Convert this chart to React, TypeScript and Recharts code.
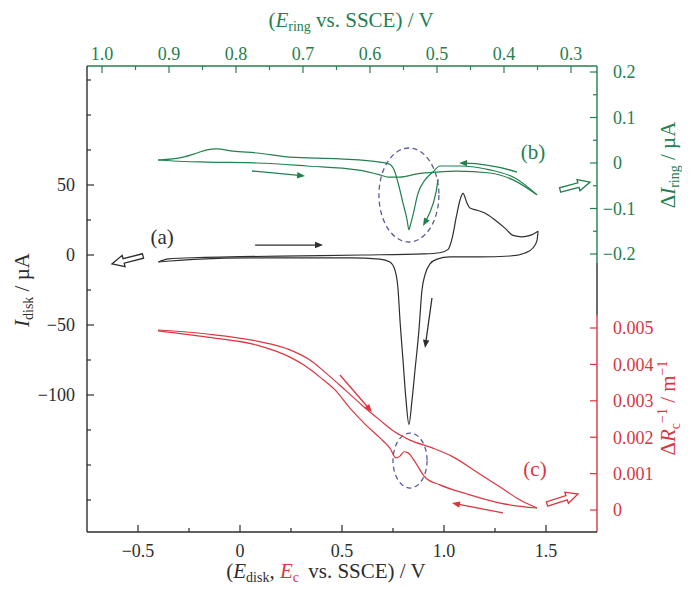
import React from 'react';
import {
  ComposedChart,
  Line,
  XAxis,
  YAxis,
  ReferenceLine,
  ReferenceArea,
  ReferenceDot,
} from 'recharts';

const SERIF = '"Liberation Serif", "DejaVu Serif", serif';
const BLACK = '#2e2e2e';
const GREEN = '#23804f';
const RED = '#dc3540';
const DASH = '#5b5b9c';

// (a) disk current (V, µA): anodic sweep, then cathodic sweep back
const DISK_FWD_E = [-0.4, -0.35, -0.2, 0, 0.3, 0.6, 0.9, 0.98, 1.02, 1.04, 1.06, 1.08, 1.093, 1.113, 1.127, 1.162, 1.2, 1.25, 1.3, 1.338, 1.382, 1.422, 1.461];
const DISK_FWD_I = [-5, -2.8, -1.8, -1.2, -0.6, 0, 0.8, 1.6, 4, 12, 27, 40, 44, 37, 33.5, 32, 30, 25, 19, 14, 13, 14, 17];
const DISK_REV_E = [1.461, 1.456, 1.436, 1.397, 1.324, 1.176, 1.029, 0.966, 0.931, 0.907, 0.892, 0.877, 0.858, 0.843, 0.828, 0.814, 0.799, 0.784, 0.775, 0.76, 0.735, 0.686, 0.539, 0.049, -0.196, -0.343, -0.4];
const DISK_REV_I = [17, 10.5, 5, 1.4, -0.7, -1.4, -1.4, -2.9, -6.4, -14, -25, -54, -82, -104, -121, -104, -75, -46, -25, -11, -5, -2.9, -2.1, -2.1, -2.9, -4.3, -5];

// (b) ring current change (V, µA)
const RING_FWD_E = [-0.402, -0.328, -0.162, 0.083, 0.328, 0.574, 0.686, 0.725, 0.784, 0.868, 0.966, 1.064, 1.225, 1.338, 1.456];
const RING_FWD_I = [0.0066, 0.0044, 0.002, 0, -0.0066, -0.015, -0.026, -0.031, -0.031, -0.024, -0.02, -0.018, -0.022, -0.037, -0.07];
const RING_REV_E = [1.456, 1.348, 1.225, 1.078, 0.98, 0.946, 0.907, 0.873, 0.848, 0.833, 0.828, 0.819, 0.799, 0.775, 0.755, 0.73, 0.686, 0.49, 0.245, 0.083, -0.034, -0.113, -0.162, -0.211, -0.279, -0.402];
const RING_REV_I = [-0.07, -0.033, -0.015, -0.0066, -0.0066, -0.0198, -0.037, -0.066, -0.114, -0.14, -0.147, -0.125, -0.088, -0.044, -0.015, -0.002, 0.002, 0.009, 0.013, 0.022, 0.026, 0.031, 0.029, 0.022, 0.013, 0.0066];

// (c) change of inverse resistance (V, m^-1)
const RC_FWD_E = [-0.402, -0.162, 0.083, 0.245, 0.343, 0.426, 0.515, 0.598, 0.686, 0.76, 0.833, 0.946, 1.044, 1.162, 1.275, 1.373, 1.456];
const RC_FWD_V = [0.004945, 0.004835, 0.00464, 0.0044, 0.00412, 0.00374, 0.0033, 0.00288, 0.00247, 0.00214, 0.00192, 0.0017, 0.00146, 0.00104, 0.00063, 0.000275, 0.000055];
const RC_REV_E = [1.456, 1.275, 1.113, 0.98, 0.907, 0.858, 0.824, 0.804, 0.784, 0.765, 0.735, 0.686, 0.613, 0.539, 0.466, 0.392, 0.319, 0.245, 0.083, -0.162, -0.402];
const RC_REV_V = [0.000055, 0.00019, 0.00044, 0.00069, 0.0009, 0.00132, 0.00157, 0.0016, 0.00148, 0.00143, 0.0017, 0.00198, 0.00236, 0.0028, 0.0033, 0.00365, 0.00396, 0.0042, 0.00453, 0.00475, 0.00492];

const E_MAJOR = [-0.5, 0, 0.5, 1, 1.5];
const E_LABELS = ['−0.5', '0', '0.5', '1.0', '1.5'];
const E_MINOR = [-0.25, 0.25, 0.75, 1.25];

const ERING_MAJOR = [1.0, 0.9, 0.8, 0.7, 0.6, 0.5, 0.4, 0.3];
const ERING_LABELS = ['1.0', '0.9', '0.8', '0.7', '0.6', '0.5', '0.4', '0.3'];
const ERING_MINOR = [0.95, 0.85, 0.75, 0.65, 0.55, 0.45, 0.35];

const I_MAJOR = [50, 0, -50, -100];
const I_LABELS = ['50', '0', '−50', '−100'];
const I_MINOR = [125, 100, 75, 25, -25, -75, -125, -150, -175];

const DI_MAJOR = [0.2, 0.1, 0, -0.1, -0.2];
const DI_LABELS = ['0.2', '0.1', '0', '−0.1', '−0.2'];
const DI_MINOR = [0.15, 0.05, -0.05, -0.15];

const DR_MAJOR = [0, 0.001, 0.002, 0.003, 0.004, 0.005];
const DR_LABELS = ['0', '0.001', '0.002', '0.003', '0.004', '0.005'];

const zip = (xs: number[], ys: number[]) => xs.map((x, i) => ({ x, y: ys[i] }));

const SERIES = [
  { data: zip(DISK_FWD_E, DISK_FWD_I), axis: 'left', color: BLACK },
  { data: zip(DISK_REV_E, DISK_REV_I), axis: 'left', color: BLACK },
  { data: zip(RING_FWD_E, RING_FWD_I), axis: 'green', color: GREEN },
  { data: zip(RING_REV_E, RING_REV_I), axis: 'green', color: GREEN },
  { data: zip(RC_FWD_E, RC_FWD_V), axis: 'red', color: RED },
  { data: zip(RC_REV_E, RC_REV_V), axis: 'red', color: RED },
];

// annotation arrows, in data units of their own axes
const ARROWS = [
  { axis: 'left', color: BLACK, from: [0.074, 7.1], to: [0.407, 7.1], bend: 0 },
  { axis: 'left', color: BLACK, from: [0.941, -30.7], to: [0.907, -66.4], bend: 0 },
  { axis: 'green', color: GREEN, from: [0.059, -0.0176], to: [0.319, -0.0286], bend: 0 },
  { axis: 'green', color: GREEN, from: [1.358, -0.0198], to: [1.074, 0], bend: -4 },
  { axis: 'green', color: GREEN, from: [0.971, -0.0352], to: [0.897, -0.1385], bend: 5 },
  { axis: 'red', color: RED, from: [0.49, 0.003709], to: [0.647, 0.002692], bend: 0 },
  { axis: 'red', color: RED, from: [1.289, -0.00008], to: [1.039, 0.000192], bend: 0 },
];
const HOLLOW = [
  { axis: 'left', color: BLACK, from: [-0.4755, -0.7], to: [-0.6275, -6.4] },
  { axis: 'green', color: GREEN, from: [1.569, -0.0593], to: [1.716, -0.0418] },
  { axis: 'red', color: RED, from: [1.505, 0.000165], to: [1.657, 0.00044] },
];
const TAGS = [
  { axis: 'left', color: BLACK, text: '(a)', x: -0.382, y: 12.9 },
  { axis: 'green', color: GREEN, text: '(b)', x: 1.436, y: 0.0242 },
  { axis: 'red', color: RED, text: '(c)', x: 1.446, y: 0.00115 },
];
const ELLIPSES = [
  { axis: 'green', x1: 0.681, x2: 0.975, y1: -0.1736, y2: 0.033 },
  { axis: 'red', x1: 0.75, x2: 0.917, y1: 0.000604, y2: 0.002115 },
];

function makeTick(orient: string, major: number[], labels: string[], color: string, margin: number, shift = 0) {
  return (props: any) => {
    const { x, y, payload } = props;
    const i = major.indexOf(payload.value);
    const len = i >= 0 ? 7 : 4;
    const font = { fontFamily: SERIF, fontSize: 18, fill: color };
    let line: any = null;
    let text: any = null;
    if (orient === 'left') {
      const ax = x + margin;
      line = <line x1={ax} y1={y} x2={ax + len} y2={y} />;
      if (i >= 0) text = <text {...font} x={x} y={y} dy="0.35em" textAnchor="end">{labels[i]}</text>;
    } else if (orient === 'right') {
      const ax = x - margin - shift;
      line = <line x1={ax} y1={y} x2={ax - len} y2={y} />;
      if (i >= 0) {
        const lab = labels[i];
        const neg = lab.startsWith('−');
        text = (
          <g>
            {neg && <text {...font} x={x} y={y} dy="0.35em" textAnchor="end">−</text>}
            <text {...font} x={x} y={y} dy="0.35em" textAnchor="start">{neg ? lab.slice(1) : lab}</text>
          </g>
        );
      }
    } else if (orient === 'bottom') {
      const ay = y - margin;
      line = <line x1={x} y1={ay} x2={x} y2={ay - len} />;
      if (i >= 0) text = <text {...font} x={x} y={y} dy="0.75em" textAnchor="middle">{labels[i]}</text>;
    } else {
      const ay = y + margin;
      line = <line x1={x} y1={ay} x2={x} y2={ay + len} />;
      if (i >= 0) text = <text {...font} x={x} y={y} textAnchor="middle">{labels[i]}</text>;
    }
    return (
      <g>
        <g stroke={color} strokeWidth={1.2}>{line}</g>
        {text}
      </g>
    );
  };
}

const lineArrow = (color: string, bend: number) => (p: any) => {
  const { x1, y1, x2, y2 } = p;
  const dx = x2 - x1;
  const dy = y2 - y1;
  const L = Math.hypot(dx, dy) || 1;
  const nx = dy / L;
  const ny = -dx / L;
  const cx = (x1 + x2) / 2 + nx * bend;
  const cy = (y1 + y2) / 2 + ny * bend;
  let ux = x2 - cx;
  let uy = y2 - cy;
  const ul = Math.hypot(ux, uy) || 1;
  ux /= ul;
  uy /= ul;
  const hl = 8;
  const hw = 3.2;
  const bx = x2 - ux * hl;
  const by = y2 - uy * hl;
  const pts = `${x2},${y2} ${bx - uy * hw},${by + ux * hw} ${bx + uy * hw},${by - ux * hw}`;
  return (
    <g>
      <path d={`M${x1},${y1} Q${cx},${cy} ${bx + ux * 2},${by + uy * 2}`} fill="none" stroke={color} strokeWidth={1.3} />
      <polygon points={pts} fill={color} />
    </g>
  );
};

const hollowArrow = (color: string) => (p: any) => {
  const { x1, y1, x2, y2 } = p;
  const dx = x2 - x1;
  const dy = y2 - y1;
  const L = Math.hypot(dx, dy) || 1;
  const ux = dx / L;
  const uy = dy / L;
  const nx = -uy;
  const ny = ux;
  const w = 2.3;
  const W = 5.8;
  const hl = 12;
  const bx = x2 - ux * hl;
  const by = y2 - uy * hl;
  const pts = [
    [x1 + nx * w, y1 + ny * w],
    [bx + nx * w, by + ny * w],
    [bx + nx * W, by + ny * W],
    [x2, y2],
    [bx - nx * W, by - ny * W],
    [bx - nx * w, by - ny * w],
    [x1 - nx * w, y1 - ny * w],
  ]
    .map((q) => q.join(','))
    .join(' ');
  return <polygon points={pts} fill="#fff" stroke={color} strokeWidth={1.3} />;
};

const sub = (s: string, color?: string) => (
  <tspan fontSize={14} dy={4} fill={color}>{s}</tspan>
);

const LeftTitle = () => (
  <text x={21} y={282} transform="rotate(-90 21 282)" textAnchor="middle" fontFamily={SERIF} fontSize={21} fill={BLACK}>
    <tspan fontStyle="italic">I</tspan>
    {sub('disk')}
    <tspan dy={-4}> / µA</tspan>
  </text>
);

const TopTitle = () => (
  <text x={343} y={19} textAnchor="middle" fontFamily={SERIF} fontSize={21} fill={GREEN}>
    <tspan>(</tspan>
    <tspan fontStyle="italic">E</tspan>
    {sub('ring')}
    <tspan dy={-4}> vs. SSCE) / V</tspan>
  </text>
);

const BottomTitle = () => (
  <text x={318} y={570} textAnchor="middle" fontFamily={SERIF} fontSize={21} fill={BLACK}>
    <tspan>(</tspan>
    <tspan fontStyle="italic">E</tspan>
    {sub('disk')}
    <tspan dy={-4}>, </tspan>
    <tspan fontStyle="italic" fill={RED}>E</tspan>
    {sub('c', RED)}
    <tspan dy={-4} dx={4}> vs. SSCE) / V</tspan>
  </text>
);

const GreenTitle = () => (
  <text x={667} y={157} transform="rotate(-90 667 157)" textAnchor="middle" fontFamily={SERIF} fontSize={21} fill={GREEN}>
    <tspan>Δ</tspan>
    <tspan fontStyle="italic">I</tspan>
    {sub('ring')}
    <tspan dy={-4}> / µA</tspan>
  </text>
);

const RedTitle = () => (
  <text x={667} y={400} transform="rotate(-90 667 400)" textAnchor="middle" fontFamily={SERIF} fontSize={21} fill={RED}>
    <tspan>Δ</tspan>
    <tspan fontStyle="italic">R</tspan>
    <tspan fontSize={14} dy={5}>c</tspan>
    <tspan fontSize={14} dy={-13}>−1</tspan>
    <tspan dy={8}> / m</tspan>
    <tspan fontSize={14} dy={-8}>−1</tspan>
  </text>
);

export default function App() {
  return (
    <div style={{ width: 682, height: 581 }}>
      <ComposedChart width={682} height={581} margin={{ top: 18, right: 91, bottom: 17, left: 19 }}>
        <XAxis
          xAxisId="bottom"
          type="number"
          dataKey="x"
          domain={[-0.75, 1.75]}
          allowDataOverflow
          ticks={[...E_MAJOR, ...E_MINOR]}
          interval={0}
          tickLine={false}
          tickSize={0}
          tickMargin={11}
          tick={makeTick('bottom', E_MAJOR, E_LABELS, BLACK, 11)}
          axisLine={{ stroke: BLACK, strokeWidth: 1.4 }}
          height={40}
          label={<BottomTitle />}
        />
        <XAxis
          xAxisId="top"
          orientation="top"
          type="number"
          dataKey="x"
          reversed
          domain={[0.2612, 1.0224]}
          allowDataOverflow
          ticks={[...ERING_MAJOR, ...ERING_MINOR]}
          interval={0}
          tickLine={false}
          tickSize={0}
          tickMargin={6}
          tick={makeTick('top', ERING_MAJOR, ERING_LABELS, GREEN, 6)}
          axisLine={{ stroke: GREEN, strokeWidth: 1.4 }}
          height={40}
          label={<TopTitle />}
        />
        <YAxis
          yAxisId="left"
          type="number"
          domain={[-197.86, 135]}
          allowDataOverflow
          ticks={[...I_MAJOR, ...I_MINOR]}
          interval={0}
          tickLine={false}
          tickSize={0}
          tickMargin={12}
          tick={makeTick('left', I_MAJOR, I_LABELS, BLACK, 12)}
          axisLine={{ stroke: BLACK, strokeWidth: 1.4 }}
          width={60}
          label={<LeftTitle />}
        />
        <YAxis
          yAxisId="green"
          orientation="right"
          type="number"
          domain={[-0.811, 0.2132]}
          allowDataOverflow
          ticks={[...DI_MAJOR, ...DI_MINOR]}
          interval={0}
          tickLine={false}
          tickSize={0}
          tickMargin={16}
          tick={makeTick('right', DI_MAJOR, DI_LABELS, GREEN, 16)}
          axisLine={false}
          width={1}
          label={<GreenTitle />}
        />
        <YAxis
          yAxisId="red"
          orientation="right"
          type="number"
          domain={[-0.000604, 0.012198]}
          allowDataOverflow
          ticks={DR_MAJOR}
          interval={0}
          tickLine={false}
          tickSize={0}
          tickMargin={15}
          tick={makeTick('right', DR_MAJOR, DR_LABELS, RED, 15, 1)}
          axisLine={false}
          width={1}
          label={<RedTitle />}
        />

        {SERIES.map((s, k) => (
          <Line
            key={`s-${k}`}
            data={s.data}
            dataKey="y"
            xAxisId="bottom"
            yAxisId={s.axis}
            type="monotone"
            stroke={s.color}
            strokeWidth={1.2}
            dot={false}
            activeDot={false}
            isAnimationActive={false}
          />
        ))}

        {/* right axis drawn in three coloured pieces */}
        <ReferenceLine xAxisId="bottom" yAxisId="green" ifOverflow="visible" segment={[{ x: 1.75, y: 0.2132 }, { x: 1.75, y: -0.22 }]} stroke={GREEN} strokeWidth={1.4} />
        <ReferenceLine xAxisId="bottom" yAxisId="left" ifOverflow="visible" segment={[{ x: 1.75, y: -5.7 }, { x: 1.75, y: -42.9 }]} stroke={BLACK} strokeWidth={1.4} />
        <ReferenceLine xAxisId="bottom" yAxisId="red" ifOverflow="visible" segment={[{ x: 1.75, y: 0.005357 }, { x: 1.75, y: -0.000604 }]} stroke={RED} strokeWidth={1.4} />

        {ELLIPSES.map((e, k) => (
          <ReferenceArea
            key={`el-${k}`}
            xAxisId="bottom"
            yAxisId={e.axis}
            x1={e.x1}
            x2={e.x2}
            y1={e.y1}
            y2={e.y2}
            ifOverflow="visible"
            shape={(p: any) => (
              <ellipse cx={p.x + p.width / 2} cy={p.y + p.height / 2} rx={Math.abs(p.width) / 2} ry={Math.abs(p.height) / 2} fill="none" stroke={DASH} strokeWidth={1.3} strokeDasharray="5 3.5" />
            )}
          />
        ))}
        {ARROWS.map((a, k) => (
          <ReferenceLine
            key={`ar-${k}`}
            xAxisId="bottom"
            yAxisId={a.axis}
            ifOverflow="visible"
            segment={[{ x: a.from[0], y: a.from[1] }, { x: a.to[0], y: a.to[1] }]}
            shape={lineArrow(a.color, a.bend)}
          />
        ))}
        {HOLLOW.map((a, k) => (
          <ReferenceLine
            key={`ho-${k}`}
            xAxisId="bottom"
            yAxisId={a.axis}
            ifOverflow="visible"
            segment={[{ x: a.from[0], y: a.from[1] }, { x: a.to[0], y: a.to[1] }]}
            shape={hollowArrow(a.color)}
          />
        ))}
        {TAGS.map((t, k) => (
          <ReferenceDot
            key={`tg-${k}`}
            xAxisId="bottom"
            yAxisId={t.axis}
            x={t.x}
            y={t.y}
            r={0}
            ifOverflow="visible"
            shape={(p: any) => (
              <text x={p.cx} y={p.cy} dy="0.35em" textAnchor="middle" fontFamily={SERIF} fontSize={21} fill={t.color}>
                {t.text}
              </text>
            )}
          />
        ))}
      </ComposedChart>
    </div>
  );
}
